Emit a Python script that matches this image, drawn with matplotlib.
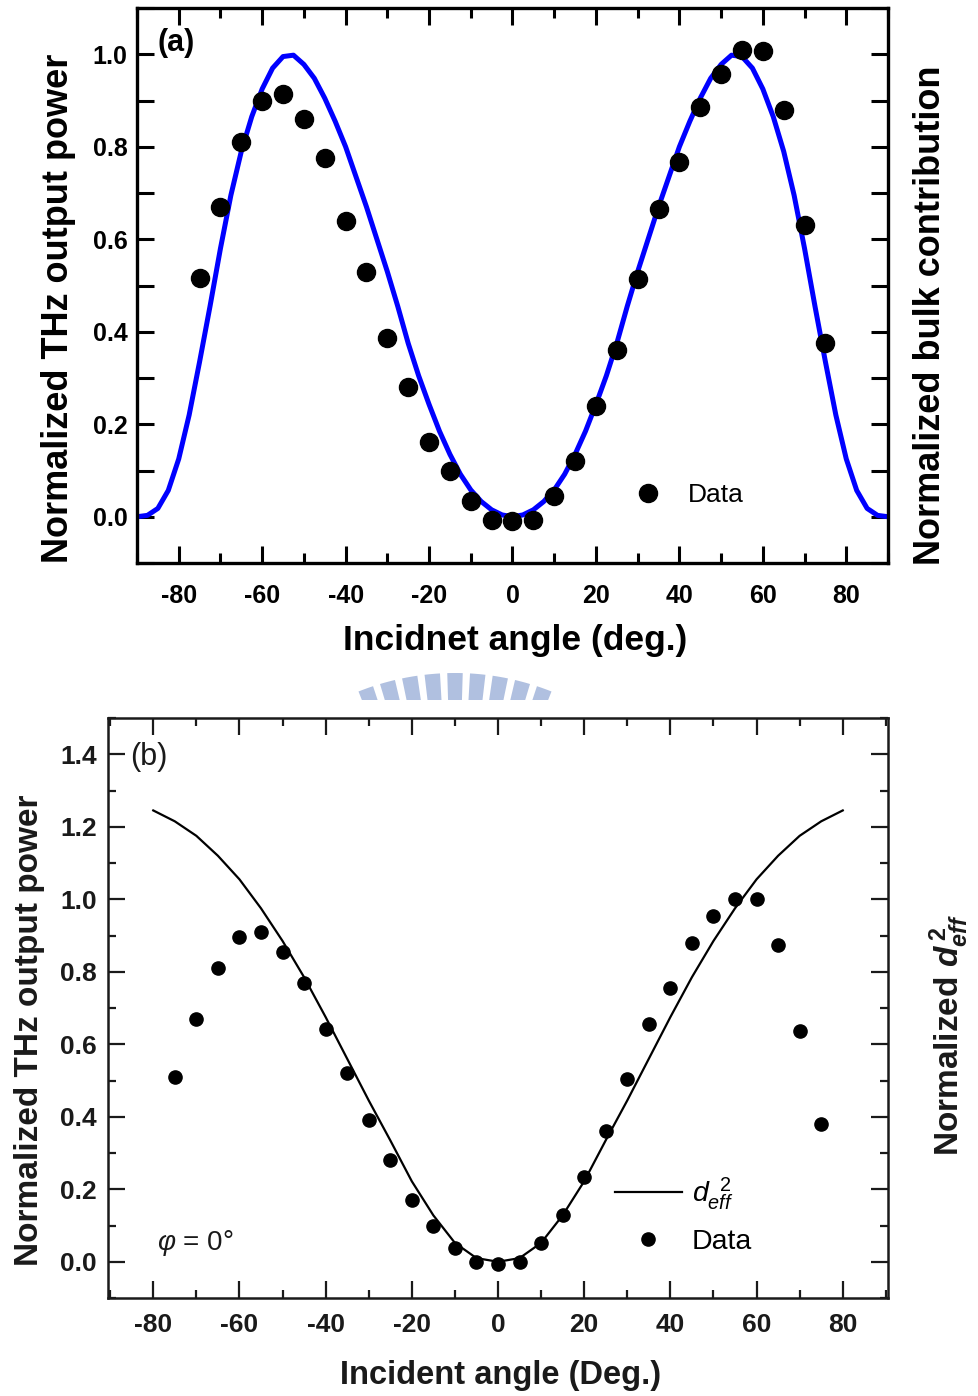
import matplotlib
matplotlib.use('Agg')
import matplotlib.pyplot as plt
from matplotlib.ticker import MultipleLocator
from matplotlib.patches import Wedge
from matplotlib.transforms import Bbox

plt.rcParams['font.family'] = ['Liberation Sans', 'DejaVu Sans']
plt.rcParams['axes.unicode_minus'] = False
plt.rcParams['mathtext.fontset'] = 'custom'
plt.rcParams['mathtext.rm'] = 'Liberation Sans'
plt.rcParams['mathtext.it'] = 'Liberation Sans:italic'
plt.rcParams['mathtext.bf'] = 'Liberation Sans:bold'
plt.rcParams['mathtext.bfit'] = 'Liberation Sans:italic:bold'

# ---- panel (a): measured points and bulk contribution curve ----
angle_a = [-75, -70, -65, -60, -55, -50, -45, -40, -35, -30, -25, -20, -15, -10, -5, 0,
           5, 10, 15, 20, 25, 30, 35, 40, 45, 50, 55, 60, 65, 70, 75]
power_a = [0.517, 0.67, 0.81, 0.90, 0.915, 0.86, 0.775, 0.64, 0.53, 0.387, 0.28, 0.162, 0.10, 0.035, -0.006, -0.01,
           -0.006, 0.044, 0.12, 0.24, 0.36, 0.513, 0.665, 0.766, 0.887, 0.958, 1.01, 1.007, 0.88, 0.63, 0.375]

bulk_x = [-90, -87.5, -85, -82.5, -80, -77.5, -75, -72.5, -70, -67.5, -65, -62.5, -60, -57.5, -55, -52.5,
          -50, -47.5, -45, -42.5, -40, -37.5, -35, -32.5, -30, -27.5, -25, -22.5, -20, -17.5, -15, -12.5,
          -10, -7.5, -5, -2.5, 0, 2.5, 5, 7.5, 10, 12.5, 15, 17.5, 20, 22.5, 25, 27.5, 30, 32.5, 35, 37.5,
          40, 42.5, 45, 47.5, 50, 52.5, 55, 57.5, 60, 62.5, 65, 67.5, 70, 72.5, 75, 77.5, 80, 82.5, 85, 87.5, 90]
bulk_y = [0.0, 0.003, 0.018, 0.057, 0.125, 0.22, 0.335, 0.455, 0.58, 0.695, 0.79, 0.865, 0.925, 0.97, 0.995, 0.998,
          0.978, 0.948, 0.905, 0.855, 0.80, 0.735, 0.67, 0.60, 0.53, 0.455, 0.375, 0.305, 0.243, 0.185, 0.135, 0.092,
          0.058, 0.033, 0.015, 0.004, 0.0, 0.004, 0.015, 0.033, 0.058, 0.092, 0.135, 0.185, 0.243, 0.305, 0.375, 0.455,
          0.53, 0.60, 0.67, 0.735, 0.80, 0.855, 0.905, 0.948, 0.978, 0.998, 0.995, 0.97, 0.925, 0.865, 0.79, 0.695,
          0.58, 0.455, 0.335, 0.22, 0.125, 0.057, 0.018, 0.003, 0.0]

# ---- panel (b): measured points and d_eff^2 curve ----
angle_b = [-75, -70, -65, -60, -55, -50, -45, -40, -35, -30, -25, -20, -15, -10, -5, 0,
           5, 10, 15, 20, 25, 30, 35, 40, 45, 50, 55, 60, 65, 70, 75]
power_b = [0.51, 0.67, 0.81, 0.897, 0.91, 0.855, 0.77, 0.643, 0.52, 0.39, 0.28, 0.17, 0.10, 0.039, 0.0, -0.005,
           0.0, 0.052, 0.128, 0.235, 0.36, 0.505, 0.657, 0.755, 0.88, 0.955, 1.0, 1.0, 0.875, 0.637, 0.38]

deff_x = [-80, -75, -70, -65, -60, -55, -50, -45, -40, -35, -30, -25, -20, -15, -10, -5, 0,
          5, 10, 15, 20, 25, 30, 35, 40, 45, 50, 55, 60, 65, 70, 75, 80]
deff_y = [1.245, 1.215, 1.175, 1.12, 1.055, 0.975, 0.885, 0.785, 0.675, 0.56, 0.445, 0.335, 0.222, 0.128, 0.052, 0.01, 0.0,
          0.01, 0.052, 0.128, 0.222, 0.335, 0.445, 0.56, 0.675, 0.785, 0.885, 0.975, 1.055, 1.12, 1.175, 1.215, 1.245]

W, H = 979, 1396
fig = plt.figure(figsize=(W / 100, H / 100), dpi=100)

# ================= top panel =================
ax1 = fig.add_axes([137 / W, 1 - 563 / H, 751 / W, 555 / H])
ax1.plot(bulk_x, bulk_y, color='#0000ff', lw=3.6, zorder=2, solid_joinstyle='round', label='_nolegend_')
ax1.plot(angle_a, power_a, 'o', color='black', ms=13, zorder=3, label='Data')
ax1.set_xlim(-90, 90)
ax1.set_ylim(-0.1, 1.1)
ax1.xaxis.set_major_locator(MultipleLocator(20))
ax1.xaxis.set_minor_locator(MultipleLocator(10))
ax1.yaxis.set_major_locator(MultipleLocator(0.2))
ax1.yaxis.set_minor_locator(MultipleLocator(0.1))
ax1.tick_params(which='both', direction='in', top=True, right=True, width=2.2)
ax1.tick_params(which='major', length=12)
ax1.tick_params(which='minor', length=7)
ax1.tick_params(axis='y', which='minor', length=12)
ax1.tick_params(axis='x', pad=15, labelsize=18)
ax1.tick_params(axis='y', pad=7, labelsize=18)
for lbl in ax1.get_xticklabels() + ax1.get_yticklabels():
    lbl.set_fontweight('bold')
for sp in ax1.spines.values():
    sp.set_linewidth(2.4)

ax1.text(-0.105, 0.459, 'Normalized THz output power', transform=ax1.transAxes, rotation=90,
         ha='center', va='center', fontsize=26, fontweight='bold')
ax1.text(1.056, 0.447, 'Normalized bulk contribution', transform=ax1.transAxes, rotation=90,
         ha='center', va='center', fontsize=26, fontweight='bold')
ax1.text(0.503, -0.139, 'Incidnet angle (deg.)', transform=ax1.transAxes,
         ha='center', va='center', fontsize=25.5, fontweight='bold')
ax1.text(0.027, 0.937, '(a)', transform=ax1.transAxes, ha='left', va='center',
         fontsize=22, fontweight='bold')
ax1.legend(loc='center left', bbox_to_anchor=(0.663, 0.1225), frameon=False, numpoints=1,
           handlelength=1.0, handletextpad=1.0, borderpad=0, borderaxespad=0, prop={'size': 19})

# faint logo watermark between panels
clip = Bbox([[340, H - 700], [580, H - 660]])
for k in range(-4, 5):
    wd = Wedge((455, H - 934), 261, 90 + 5 * k - 1.7, 90 + 5 * k + 1.7, width=40,
               transform=None, facecolor='#b0c0e0', edgecolor='none')
    wd.set_clip_box(clip)
    fig.patches.append(wd)

# ================= bottom panel =================
ink = '#1a1a1a'
ax2 = fig.add_axes([108 / W, 1 - 1298 / H, 780 / W, 580 / H])
ax2.plot(deff_x, deff_y, color='black', lw=1.6, zorder=2, label=r'$d_{eff}^{\;\;2}$')
ax2.plot(angle_b, power_b, 'o', color='black', ms=9.5, zorder=3, label='Data')
ax2.set_xlim(-90.5, 90.5)
ax2.set_ylim(-0.1, 1.5)
ax2.xaxis.set_major_locator(MultipleLocator(20))
ax2.xaxis.set_minor_locator(MultipleLocator(10))
ax2.yaxis.set_major_locator(MultipleLocator(0.2))
ax2.yaxis.set_minor_locator(MultipleLocator(0.1))
ax2.tick_params(which='both', direction='in', top=True, right=True, width=1.6, colors=ink)
ax2.tick_params(which='major', length=12)
ax2.tick_params(which='minor', length=6)
ax2.tick_params(axis='x', pad=11, labelsize=19)
ax2.tick_params(axis='y', pad=8, labelsize=19)
for lbl in ax2.get_xticklabels() + ax2.get_yticklabels():
    lbl.set_fontweight('bold')
for sp in ax2.spines.values():
    sp.set_linewidth(1.8)
    sp.set_color(ink)

ax2.text(-0.1, 0.462, 'Normalized THz output power', transform=ax2.transAxes, rotation=90,
         ha='center', va='center', fontsize=24, fontweight='bold', color=ink)
ax2.text(1.079, 0.453, r'Normalized $\mathbfit{d}_{\mathbfit{eff}}^{\;\mathbf{2}}$', transform=ax2.transAxes,
         rotation=90, ha='center', va='center', fontsize=24, fontweight='bold', color=ink)
ax2.text(0.503, -0.133, 'Incident angle (Deg.)', transform=ax2.transAxes,
         ha='center', va='center', fontsize=23.5, fontweight='bold', color=ink)
ax2.text(0.028, 0.933, '(b)', transform=ax2.transAxes, ha='left', va='center', fontsize=22, color=ink)
ax2.text(0.063, 0.095, r'$\varphi$ = 0°', transform=ax2.transAxes, ha='left', va='center',
         fontsize=20, color=ink)
ax2.legend(loc='center left', bbox_to_anchor=(0.65, 0.143), frameon=False, numpoints=1,
           handlelength=2.35, handletextpad=0.35, labelspacing=0.6, borderpad=0, borderaxespad=0,
           prop={'size': 20.5})

fig.savefig('out.png', dpi=100)
